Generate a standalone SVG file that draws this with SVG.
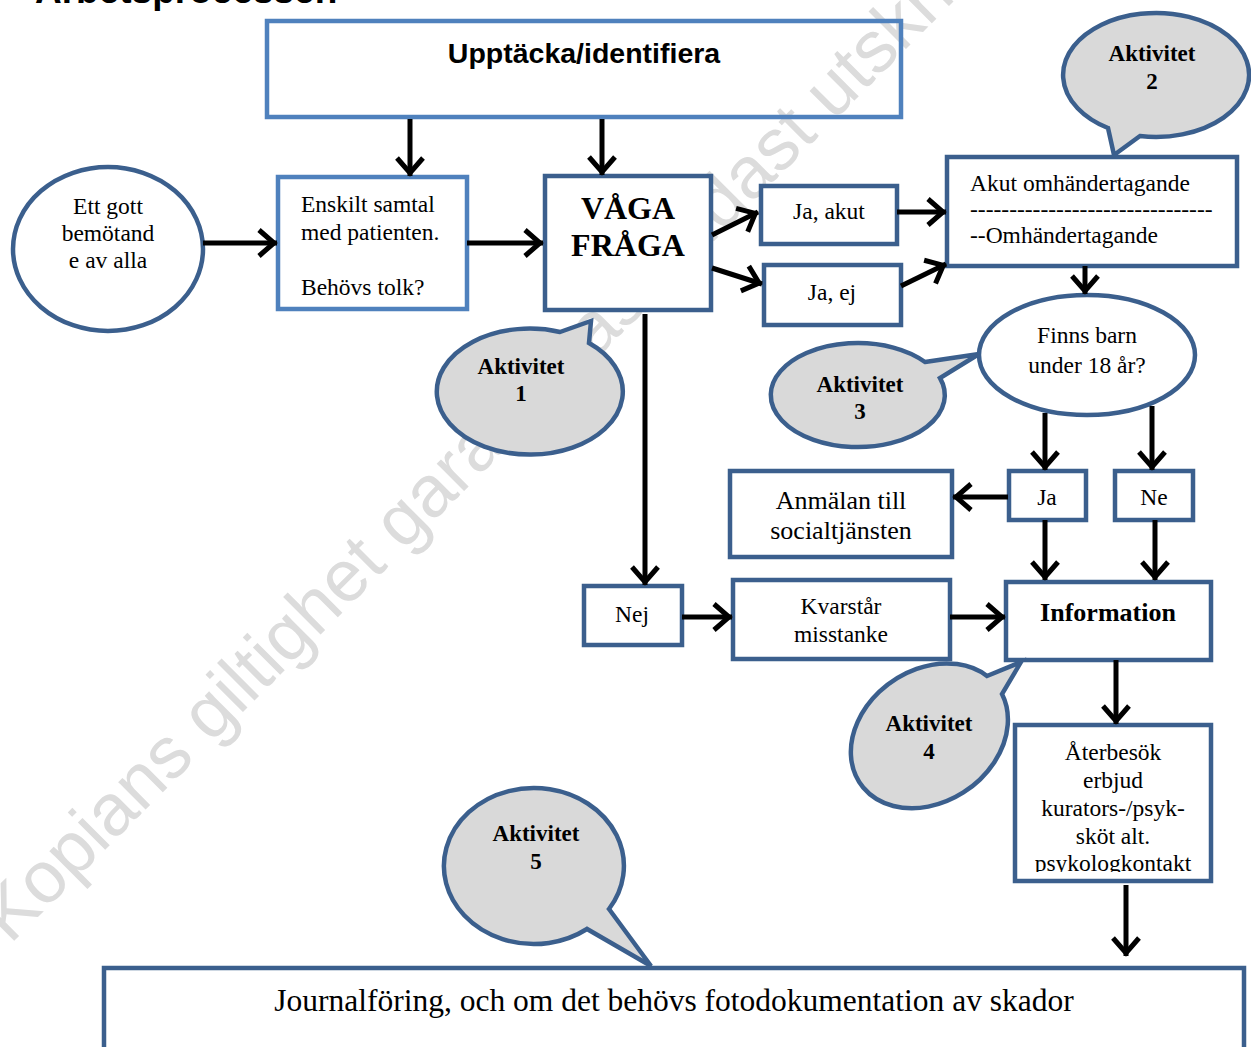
<svg xmlns="http://www.w3.org/2000/svg" width="1251" height="1047" viewBox="0 0 1251 1047">
<defs>
<style>
.bx{fill:#fff;stroke:#3b5f8d;stroke-width:4.5}
.bxl{fill:#fff;stroke:#4f81bd;stroke-width:4.5}
.bub{fill:#d9d9d9;stroke:#3b5f8d;stroke-width:4.5;stroke-linejoin:miter}
.t{font-family:"Liberation Serif","Times New Roman",serif;font-size:23.5px;fill:#000}
.c{text-anchor:middle}
.b{font-weight:bold}
.ak{font-family:"Liberation Serif","Times New Roman",serif;font-size:23px;font-weight:bold;text-anchor:middle;fill:#000}
.ln{fill:none;stroke:#000;stroke-width:5;marker-end:url(#ah)}
.wm{font-family:"Liberation Sans",Arial,sans-serif;font-size:73px;fill:#dcdcdc}
</style>
<marker id="ah" markerUnits="userSpaceOnUse" viewBox="-22 -16 26 32" markerWidth="26" markerHeight="32" refX="0" refY="0" orient="auto" overflow="visible">
<path d="M-18,-13 L-3,0 L-18,13" fill="none" stroke="#000" stroke-width="5"/>
</marker>
<clipPath id="clipAt"><rect x="1017" y="727" width="192" height="145"/></clipPath>
</defs>
<rect width="1251" height="1047" fill="#fff"/>
<text class="wm" transform="translate(10,945) rotate(-45)">Kopians giltighet garanteras endast utskriftsdagen</text>
<text x="35" y="3" font-family="'Liberation Sans',Arial,sans-serif" font-size="37" font-weight="bold">Arbetsprocessen</text>

<g id="n-upptacka"><rect class="bxl" x="267" y="21" width="634" height="96" style="fill:none"/><text x="584" y="63" font-family="'Liberation Sans',Arial,sans-serif" font-size="28.5" font-weight="bold" text-anchor="middle">Upptäcka/identifiera</text></g>
<g id="n-bemotande"><ellipse class="bx" cx="108" cy="249" rx="95" ry="82"/><text class="t c" x="108" y="214">Ett gott</text><text class="t c" x="108" y="241">bemötand</text><text class="t c" x="108" y="268">e av alla</text></g>
<g id="n-enskilt"><rect class="bxl" x="278" y="177" width="189" height="132"/><text class="t" x="301" y="212">Enskilt samtal</text><text class="t" x="301" y="240">med patienten.</text><text class="t" x="301" y="295">Behövs tolk?</text></g>
<g id="n-vaga"><rect class="bx" x="545" y="176" width="166" height="134"/><text class="t c b" x="628" y="219" style="font-size:32px">VÅGA</text><text class="t c b" x="628" y="256" style="font-size:32px">FRÅGA</text></g>
<g id="n-jaakut"><rect class="bx" x="761" y="186" width="136" height="58"/><text class="t c" x="829" y="219">Ja, akut</text></g>
<g id="n-jaej"><rect class="bx" x="764" y="265" width="137" height="60"/><text class="t c" x="832" y="300">Ja, ej</text></g>
<g id="n-akut"><rect class="bx" x="947" y="157" width="290" height="109"/><text class="t" x="970" y="191">Akut omhändertagande</text><text class="t" x="970" y="217">-------------------------------</text><text class="t" x="970" y="243">--Omhändertagande</text></g>
<g id="n-akt2"><path class="bub" d="M1140,136 L1114,155 L1108,128 A93 62 0 1 1 1140,136 Z"/><text class="ak" x="1152" y="61">Aktivitet</text><text class="ak" x="1152" y="89">2</text></g>
<g id="n-finns"><ellipse class="bx" cx="1087" cy="355" rx="108" ry="60"/><text class="t c" x="1087" y="343">Finns barn</text><text class="t c" x="1087" y="373">under 18 år?</text></g>
<g id="n-akt3"><path class="bub" d="M925,362 L979,354 L940,378 A87 52 0 1 1 925,362 Z"/><text class="ak" x="860" y="392">Aktivitet</text><text class="ak" x="860" y="419">3</text></g>
<g id="n-akt1"><path class="bub" d="M560,332 L591,321 L589,343 A93 63 0 1 1 560,332 Z"/><text class="ak" x="521" y="374">Aktivitet</text><text class="ak" x="521" y="401">1</text></g>
<g id="n-ja"><rect class="bx" x="1009" y="471" width="77" height="49"/><text class="t c" x="1047" y="505">Ja</text></g>
<g id="n-ne"><rect class="bx" x="1115" y="471" width="78" height="49"/><text class="t c" x="1154" y="505">Ne</text></g>
<g id="n-anmalan"><rect class="bx" x="730" y="471" width="222" height="86"/><text class="t c" x="841" y="509" style="font-size:26px">Anmälan till</text><text class="t c" x="841" y="539" style="font-size:26px">socialtjänsten</text></g>
<g id="n-nej"><rect class="bx" x="584" y="586" width="98" height="59"/><text class="t c" x="632" y="622">Nej</text></g>
<g id="n-kvarstar"><rect class="bx" x="733" y="580" width="217" height="79"/><text class="t c" x="841" y="614">Kvarstår</text><text class="t c" x="841" y="642">misstanke</text></g>
<g id="n-information"><rect class="bx" x="1006" y="582" width="205" height="78"/><text class="t c b" x="1108" y="621" style="font-size:26px">Information</text></g>
<g id="n-akt4"><path class="bub" d="M987,676 L1021,662 L1002,694 A84 66 -35 1 1 987,676 Z"/><text class="ak" x="929" y="731">Aktivitet</text><text class="ak" x="929" y="759">4</text></g>
<g id="n-aterbesok"><rect class="bx" x="1015" y="725" width="196" height="156"/><g clip-path="url(#clipAt)"><text class="t c" x="1113" y="760">Återbesök</text><text class="t c" x="1113" y="788">erbjud</text><text class="t c" x="1113" y="816">kurators-/psyk-</text><text class="t c" x="1113" y="844">sköt alt.</text><text class="t c" x="1113" y="871">psykologkontakt</text></g></g>
<g id="n-akt5"><path class="bub" d="M609,909 L651,966 L587,929 A90 78 0 1 1 609,909 Z"/><text class="ak" x="536" y="841">Aktivitet</text><text class="ak" x="536" y="869">5</text></g>
<g id="n-journal"><rect class="bx" x="104" y="968" width="1140" height="100"/><text class="t c" x="674" y="1011" style="font-size:31.5px">Journalföring, och om det behövs fotodokumentation av skador</text></g>

<g id="connectors">
<path class="ln" d="M410,119 L410,176"/>
<path class="ln" d="M602,119 L602,175"/>
<path class="ln" d="M203,243 L277,243"/>
<path class="ln" d="M467,243 L543,243"/>
<path class="ln" d="M712,235 L758,212"/>
<path class="ln" d="M712,268 L762,284"/>
<path class="ln" d="M897,212 L946,212"/>
<path class="ln" d="M901,286 L946,264"/>
<path class="ln" d="M1085,266 L1085,294"/>
<path class="ln" d="M1045,413 L1045,470"/>
<path class="ln" d="M1152,406 L1152,470"/>
<path class="ln" d="M1008,497 L953,497"/>
<path class="ln" d="M1045,520 L1045,580"/>
<path class="ln" d="M1155,520 L1155,580"/>
<path class="ln" d="M645,314 L645,585"/>
<path class="ln" d="M682,617 L732,617"/>
<path class="ln" d="M950,617 L1005,617"/>
<path class="ln" d="M1116,660 L1116,724"/>
<path class="ln" d="M1126,885 L1126,956"/>
</g>
</svg>
